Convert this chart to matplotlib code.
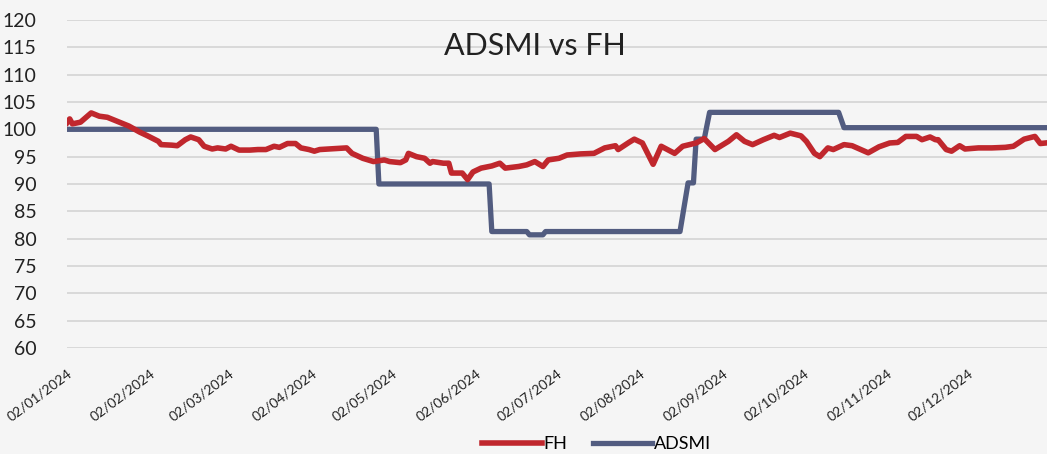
import matplotlib.pyplot as plt
import matplotlib.dates as mdates
import matplotlib.transforms as mtransforms
import pandas as pd

plt.rcParams['font.family'] = ['Lato', 'DejaVu Sans']

# FH daily-ish readings
fh_dates = ['2024-01-02', '2024-01-03', '2024-01-04', '2024-01-07', '2024-01-11', '2024-01-14',
            '2024-01-17', '2024-01-20', '2024-01-25', '2024-01-29', '2024-02-01', '2024-02-05',
            '2024-02-06', '2024-02-10', '2024-02-12', '2024-02-15', '2024-02-17', '2024-02-20',
            '2024-02-22', '2024-02-25', '2024-02-27', '2024-03-01', '2024-03-03', '2024-03-06',
            '2024-03-10', '2024-03-13', '2024-03-16', '2024-03-19', '2024-03-21', '2024-03-24',
            '2024-03-27', '2024-03-29', '2024-04-01', '2024-04-03', '2024-04-05', '2024-04-15',
            '2024-04-17', '2024-04-21', '2024-04-25', '2024-04-29', '2024-05-01', '2024-05-05',
            '2024-05-07', '2024-05-08', '2024-05-11', '2024-05-14', '2024-05-16', '2024-05-17',
            '2024-05-21', '2024-05-23', '2024-05-24', '2024-05-28', '2024-05-30', '2024-06-01',
            '2024-06-04', '2024-06-08', '2024-06-11', '2024-06-13', '2024-06-18', '2024-06-21',
            '2024-06-24', '2024-06-27', '2024-06-29', '2024-07-03', '2024-07-06', '2024-07-11',
            '2024-07-16', '2024-07-20', '2024-07-24', '2024-07-25', '2024-07-29', '2024-07-31',
            '2024-08-03', '2024-08-07', '2024-08-10', '2024-08-15', '2024-08-18', '2024-08-23',
            '2024-08-26', '2024-08-30', '2024-09-04', '2024-09-07', '2024-09-10', '2024-09-13',
            '2024-09-17', '2024-09-21', '2024-09-23', '2024-09-27', '2024-10-01', '2024-10-03',
            '2024-10-06', '2024-10-08', '2024-10-11', '2024-10-13', '2024-10-17', '2024-10-20',
            '2024-10-26', '2024-10-30', '2024-11-03', '2024-11-06', '2024-11-09', '2024-11-13',
            '2024-11-15', '2024-11-18', '2024-11-20', '2024-11-21', '2024-11-24', '2024-11-26',
            '2024-11-29', '2024-12-01', '2024-12-06', '2024-12-11', '2024-12-16', '2024-12-19',
            '2024-12-23', '2024-12-27', '2024-12-29', '2024-12-31']
fh_values = [101.2, 101.9, 101.0, 101.3, 103.0, 102.4,
             102.2, 101.6, 100.6, 99.5, 98.8, 97.8,
             97.2, 97.1, 97.0, 98.1, 98.6, 98.1,
             96.9, 96.4, 96.6, 96.4, 96.9, 96.2,
             96.2, 96.3, 96.3, 96.9, 96.7, 97.4,
             97.4, 96.6, 96.3, 96.0, 96.3, 96.6,
             95.6, 94.7, 94.1, 94.4, 94.1, 93.9,
             94.4, 95.6, 95.0, 94.7, 93.8, 94.1,
             93.8, 93.8, 92.0, 92.0, 90.8, 92.2,
             92.9, 93.3, 93.8, 92.9, 93.2, 93.5,
             94.1, 93.2, 94.4, 94.7, 95.3, 95.5,
             95.6, 96.6, 97.0, 96.3, 97.6, 98.2,
             97.5, 93.6, 96.9, 95.6, 96.9, 97.5,
             98.3, 96.3, 97.8, 99.0, 97.8, 97.2,
             98.1, 98.9, 98.5, 99.3, 98.8, 97.8,
             95.6, 95.0, 96.6, 96.3, 97.2, 97.0,
             95.7, 96.8, 97.5, 97.6, 98.7, 98.7,
             98.1, 98.6, 98.1, 98.1, 96.3, 96.0,
             97.0, 96.4, 96.6, 96.6, 96.7, 96.9,
             98.2, 98.7, 97.4, 97.5]

# ADSMI step levels
adsmi_dates = ['2024-01-02', '2024-04-26', '2024-04-27', '2024-06-07', '2024-06-08',
               '2024-06-21', '2024-06-22', '2024-06-27', '2024-06-28', '2024-08-17',
               '2024-08-20', '2024-08-22', '2024-08-23', '2024-08-26', '2024-08-28',
               '2024-10-15', '2024-10-17', '2024-12-31']
adsmi_values = [100.0, 100.0, 90.0, 90.0, 81.3,
                81.3, 80.7, 80.7, 81.3, 81.3,
                90.2, 90.2, 98.2, 98.2, 103.1,
                103.1, 100.3, 100.3]

tick_dates = ['2024-01-02', '2024-02-02', '2024-03-02', '2024-04-02', '2024-05-02', '2024-06-02',
              '2024-07-02', '2024-08-02', '2024-09-02', '2024-10-02', '2024-11-02', '2024-12-02']

fh_x = pd.to_datetime(fh_dates)
adsmi_x = pd.to_datetime(adsmi_dates)
ticks = pd.to_datetime(tick_dates)

fig = plt.figure(figsize=(10.47, 4.54), dpi=100, facecolor='#f5f5f5')
ax = fig.add_axes([0.064, 0.2335, 0.936, 0.7225])
ax.set_facecolor('none')

ax.plot(fh_x, fh_values, color='#c0272d', lw=4, label='FH', zorder=3,
        solid_joinstyle='round')
ax.plot(adsmi_x, adsmi_values, color='#525c80', lw=3.8, label='ADSMI', zorder=2)

ax.set_ylim(60, 120)
ax.set_yticks(range(60, 121, 5))
ax.set_xlim(pd.Timestamp('2024-01-02'), pd.Timestamp('2024-12-31 12:00'))
ax.set_xticks(ticks)
ax.xaxis.set_major_formatter(mdates.DateFormatter('%d/%m/%Y'))
# labels sit a touch right of the tick in the original
shift = mtransforms.ScaledTranslation(6 / 100, 0, fig.dpi_scale_trans)
for lab in ax.get_xticklabels():
    lab.set_rotation(37)
    lab.set_ha('right')
    lab.set_va('top')
    lab.set_rotation_mode('anchor')
    lab.set_transform(lab.get_transform() + shift)
ax.tick_params(axis='x', length=0, labelsize=10, pad=14, colors='#222222')
ax.tick_params(axis='y', length=0, labelsize=14, pad=22, colors='#222222')

ax.grid(axis='y', color='#d6d6d6', lw=1.3)
ax.grid(axis='x', visible=False)
for s in ax.spines.values():
    s.set_visible(False)

fig.text(0.511, 0.898, 'ADSMI vs FH', ha='center', va='center', fontsize=22, color='#222222')

fig.legend(loc='center', bbox_to_anchor=(0.57, 0.022), ncol=2, frameon=False,
           fontsize=13, handlelength=3.3, handletextpad=0.1, columnspacing=1.4)

fig.savefig('out.png', dpi=100, facecolor=fig.get_facecolor())
